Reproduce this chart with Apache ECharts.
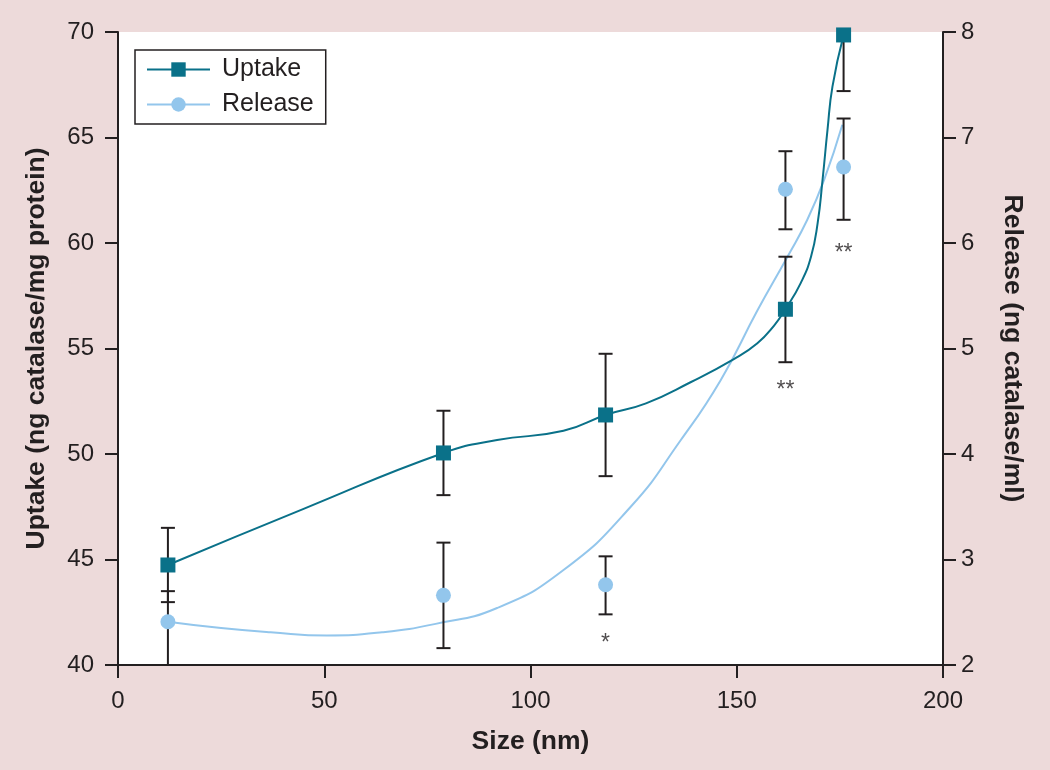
<!DOCTYPE html>
<html>
<head>
<meta charset="utf-8">
<script src="https://cdn.jsdelivr.net/npm/echarts@6/dist/echarts.min.js"></script>
<style>
html,body{margin:0;padding:0;background:#eddada;}
#chart{width:1050px;height:770px;}
</style>
</head>
<body>
<div id="chart"></div>
<script>
// ---- data ----
const sizeX = [12.1, 78.9, 118.2, 161.8, 175.9];
const uptakeY = [44.74, 50.05, 51.85, 56.86, 69.86];
const uptakeLow = [42.98, 48.05, 48.95, 54.35, 67.2];
const uptakeHigh = [46.5, 52.05, 54.75, 59.35, 72.5];
const releaseY = [2.41, 2.66, 2.76, 6.51, 6.72];
const releaseLow = [1.9, 2.16, 2.48, 6.13, 6.22];
const releaseHigh = [2.70, 3.16, 3.03, 6.87, 7.18];

// trend curves as drawn in the reference
const uptakeCurveX = [12.1, 45, 78.9, 91.9, 108, 118.2, 128, 138.8, 149.3, 155.0, 159.1, 161.8, 165.5, 168.0, 169.6, 170.8, 172.0, 173.2, 175.9];
const uptakeCurveY = [44.74, 47.4, 50.05, 50.66, 51.1, 51.85, 52.4, 53.4, 54.5, 55.25, 56.1, 56.86, 58.1, 59.35, 60.93, 62.99, 65.36, 67.41, 69.86];
const releaseCurveX = [12.1, 25, 37, 50.6, 64, 77, 91.9, 108, 124.3, 136.4, 146.1, 155.0, 162.3, 167.1, 171.2, 175.6];
const releaseCurveY = [2.41, 2.35, 2.31, 2.28, 2.31, 2.39, 2.54, 2.90, 3.50, 4.13, 4.70, 5.36, 5.87, 6.22, 6.60, 7.12];

// significance marks (positioned on the uptake axis scale)
const annotX = [118.2, 161.8, 175.9];
const annotY = [41.0, 53.0, 59.5];
const annotText = ['*', '**', '**'];

const axisMin = {x: 0, left: 40, right: 2};
const axisMax = {x: 200, left: 70, right: 8};
const axisStep = {x: 50, left: 5, right: 1};

const axisNames = {
  x: 'Size (nm)',
  left: 'Uptake (ng catalase/mg protein)',
  right: 'Release (ng catalase/ml)'
};

// ---- chart ----
const uptakeColor = '#0a7189';
const releaseColor = '#93c6ec';
const ink = '#231f20';
const fontFamily = '"Liberation Sans", Arial, Helvetica, sans-serif';

const chart = echarts.init(document.getElementById('chart'), null, {renderer: 'canvas'});

function errorRender(params, api) {
  const x = api.value(0), lo = api.value(1), hi = api.value(2);
  const pLo = api.coord([x, lo]);
  const pHi = api.coord([x, hi]);
  const cs = params.coordSys;
  const top = cs.y, bottom = cs.y + cs.height;
  const yTop = Math.max(top, pHi[1]);
  const yBot = Math.min(bottom, pLo[1]);
  const half = 7;
  const style = {stroke: ink, lineWidth: 2};
  const children = [{type: 'line', shape: {x1: pLo[0], y1: yBot, x2: pLo[0], y2: yTop}, style: style}];
  if (pHi[1] >= top) children.push({type: 'line', shape: {x1: pHi[0] - half, y1: pHi[1], x2: pHi[0] + half, y2: pHi[1]}, style: style});
  if (pLo[1] <= bottom) children.push({type: 'line', shape: {x1: pLo[0] - half, y1: pLo[1], x2: pLo[0] + half, y2: pLo[1]}, style: style});
  return {type: 'group', children: children};
}

const axisCommon = {
  axisLine: {show: true, onZero: false, lineStyle: {color: ink, width: 2}},
  axisTick: {show: true, inside: false, length: 13, lineStyle: {color: ink, width: 2}},
  axisLabel: {color: ink, fontSize: 24, fontFamily: fontFamily},
  splitLine: {show: false},
  nameLocation: 'middle',
  nameTextStyle: {color: ink, fontSize: 26.5, fontWeight: 'bold', fontFamily: fontFamily}
};

const option = {
  backgroundColor: '#eddada',
  animation: false,
  textStyle: {fontFamily: fontFamily},
  grid: {left: 118, right: 107, top: 32, bottom: 105, show: true, backgroundColor: '#ffffff', borderWidth: 0},
  legend: {
    data: ['Uptake', 'Release'],
    orient: 'vertical',
    left: 135, top: 50,
    padding: [7, 12, 7, 11],
    borderColor: ink, borderWidth: 1.5,
    backgroundColor: '#ffffff',
    itemWidth: 63, itemHeight: 18, itemGap: 10,
    textStyle: {color: ink, fontSize: 25, fontFamily: fontFamily, padding: [0, 0, 0, 7]}
  },
  xAxis: Object.assign({}, axisCommon, {
    type: 'value', min: axisMin.x, max: axisMax.x, interval: axisStep.x,
    name: axisNames.x, nameGap: 63,
    axisLabel: Object.assign({}, axisCommon.axisLabel, {margin: 24})
  }),
  yAxis: [
    Object.assign({}, axisCommon, {
      type: 'value', position: 'left', min: axisMin.left, max: axisMax.left, interval: axisStep.left,
      name: axisNames.left, nameGap: 68, nameRotate: 90,
      axisLabel: Object.assign({}, axisCommon.axisLabel, {margin: 24})
    }),
    Object.assign({}, axisCommon, {
      type: 'value', position: 'right', min: axisMin.right, max: axisMax.right, interval: axisStep.right,
      name: axisNames.right, nameGap: 56, nameRotate: -90,
      axisLabel: Object.assign({}, axisCommon.axisLabel, {margin: 18})
    })
  ],
  series: [
    {
      name: 'Uptake', type: 'line', yAxisIndex: 0, smooth: 0.5,
      symbol: 'rect', showSymbol: false, symbolSize: 15,
      data: uptakeCurveX.map((x, i) => [x, uptakeCurveY[i]]),
      lineStyle: {color: uptakeColor, width: 2},
      itemStyle: {color: uptakeColor},
      z: 3, silent: true
    },
    {
      name: 'Release', type: 'line', yAxisIndex: 1, smooth: 0.5,
      symbol: 'circle', showSymbol: false, symbolSize: 15,
      data: releaseCurveX.map((x, i) => [x, releaseCurveY[i]]),
      lineStyle: {color: releaseColor, width: 2},
      itemStyle: {color: releaseColor},
      z: 2, silent: true
    },
    {
      name: 'uptakeErr', type: 'custom', yAxisIndex: 0, renderItem: errorRender, z: 4, silent: true,
      data: sizeX.map((x, i) => [x, uptakeLow[i], uptakeHigh[i]])
    },
    {
      name: 'releaseErr', type: 'custom', yAxisIndex: 1, renderItem: errorRender, z: 4, silent: true,
      data: sizeX.map((x, i) => [x, releaseLow[i], releaseHigh[i]])
    },
    {
      name: 'uptakePts', type: 'scatter', yAxisIndex: 0, symbol: 'rect', symbolSize: 15,
      itemStyle: {color: uptakeColor, opacity: 1}, z: 6, silent: true,
      data: sizeX.map((x, i) => [x, uptakeY[i]])
    },
    {
      name: 'releasePts', type: 'scatter', yAxisIndex: 1, symbol: 'circle', symbolSize: 15,
      itemStyle: {color: releaseColor, opacity: 1}, z: 5, silent: true,
      data: sizeX.map((x, i) => [x, releaseY[i]])
    },
    {
      name: 'marks', type: 'scatter', yAxisIndex: 0, symbolSize: 0, z: 6, silent: true,
      label: {show: true, position: 'inside', color: ink, fontSize: 23, fontFamily: fontFamily,
        formatter: p => p.value[2]},
      data: annotX.map((x, i) => [x, annotY[i], annotText[i]])
    }
  ]
};
chart.setOption(option);
</script>
</body>
</html>
